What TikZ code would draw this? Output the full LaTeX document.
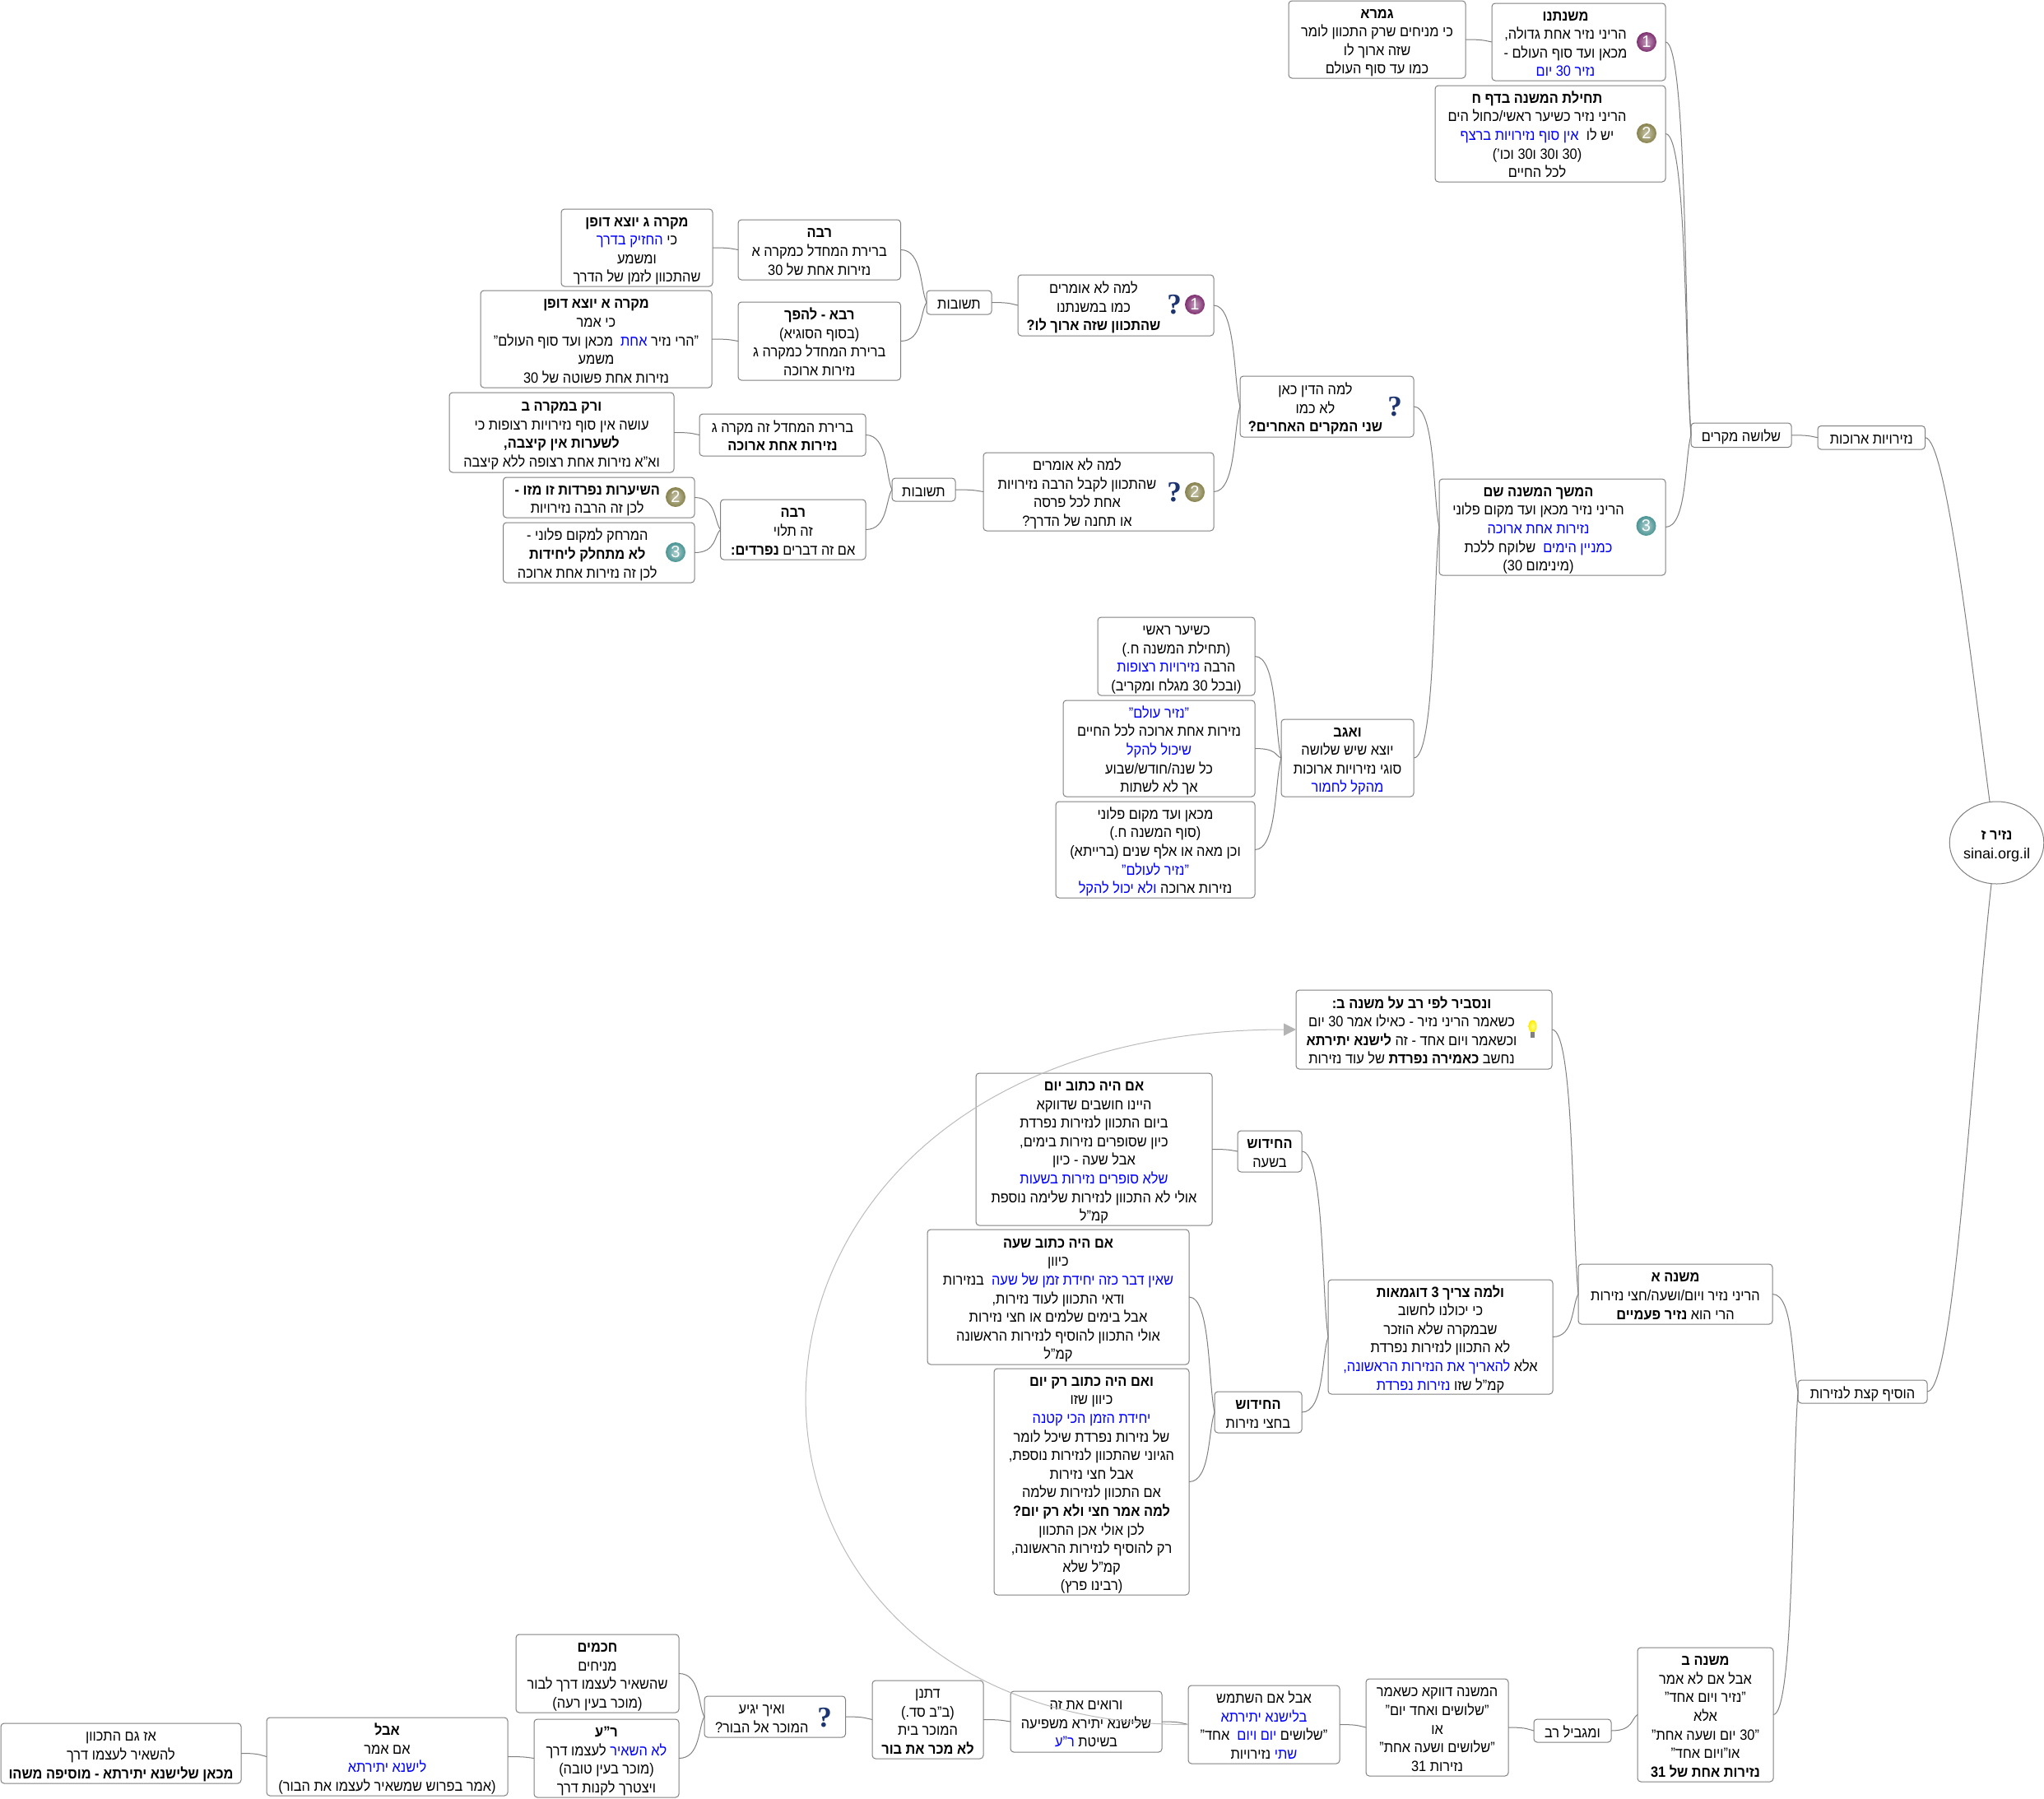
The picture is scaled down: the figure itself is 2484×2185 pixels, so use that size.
\documentclass[tikz,border=0pt]{standalone}
\usepackage{fontspec}
\usetikzlibrary{calc,arrows.meta,shapes.geometric}
\setmainfont[Script=Hebrew,FakeStretch=0.91]{Liberation Sans}
\newfontfamily\latfont{Liberation Sans}
\newfontfamily\qfont{Liberation Serif}
\TeXXeTstate=1
\definecolor{edgegray}{HTML}{808080}
\definecolor{linkgray}{HTML}{BBBBBB}
\definecolor{headgray}{HTML}{B4B4B4}
\definecolor{qblue}{HTML}{1C3470}
\definecolor{iconA}{HTML}{7E2F70}
\definecolor{iconB}{HTML}{87824C}
\definecolor{iconC}{HTML}{4A9494}
% inside an R run the output order is reversed, so the colour stack is written pop first
\newcommand\bl[1]{\special{color pop}#1\special{color push rgb 0 0 1}}
\newcommand\tb[1]{\textbf{#1}}
\tikzset{
  mapbox/.style={draw=edgegray,line width=1pt,rounded corners=4pt,inner sep=0pt,outer sep=0pt,
    font=\fontsize{18}{22.6}\selectfont,text=black},
  conn/.style={draw=edgegray,line width=1pt},
  numicon/.style={circle,minimum size=24pt,inner sep=0pt,outer sep=0pt,shade,inner color=#1!45!white,outer color=#1,text=white,
    font=\fontsize{20}{20}\selectfont\latfont},
  qicon/.style={inner sep=0pt,outer sep=0pt,text=qblue,font=\fontsize{35}{35}\selectfont\qfont\bfseries},
  crosslink/.style={draw=linkgray,line width=1pt,-{Triangle[length=15pt,width=15pt,fill=headgray,color=headgray]}}
}
\newcommand\ndtext[7][0]{%
  \pgfmathsetmacro\cxx{(#3+#5)/2}\pgfmathsetmacro\cyy{(#4+#6)/2}%
  \pgfmathsetmacro\wdd{#5-#3}\pgfmathsetmacro\htt{#6-#4}%
  \pgfmathsetmacro\kk{-2*#1}%
  \node[mapbox,minimum width=\wdd pt,minimum height=\htt pt] (#2) at (\cxx,\cyy)
    {\raisebox{-3.5pt}[\height][\depth]{\begin{tabular}{@{}c@{}}#7\end{tabular}}\kern\kk pt};%
}
\newcommand\cn[2]{\draw[conn] (#1.east) .. controls ($(#1.east)!0.85!(#1.east -| #2.west)$) and ($(#2.west)!0.25!(#1.east)$) .. (#2.west);}
\begin{document}
\begin{tikzpicture}[x=1pt,y=-1pt]
\useasboundingbox (0,0) rectangle (2484,2185);
\fill[white] (0,0) rectangle (2484,2185);
% top branch
\ndtext{gemara}{1566}{1}{1781}{95}{\beginR\tb{גמרא}\endR\\\beginR כי מניחים שרק התכוון לומר\endR\\\beginR שזה ארוך לו\endR\\\beginR כמו עד סוף העולם\endR}
\ndtext[-16]{mishnatenu}{1813}{4}{2024}{98}{\beginR\tb{משנתנו}\endR\\\beginR הריני נזיר אחת גדולה,\endR\\\beginR מכאן ועד סוף העולם -\endR\\\beginR\bl{נזיר 30 יום}\endR}
\ndtext[-16]{techila}{1744}{104}{2024}{221}{\beginR\tb{תחילת המשנה בדף ח}\endR\\\beginR הריני נזיר כשיער ראשי/כחול הים\endR\\\beginR יש לו\ \ \bl{אין סוף נזירויות ברצף}\endR\\\beginR (30 ו30 ו30 וכו')\endR\\\beginR לכל החיים\endR}
\ndtext{mikreg}{682}{254}{866}{348}{\beginR\tb{מקרה ג יוצא דופן}\endR\\\beginR כי \bl{החזיק בדרך}\endR\\\beginR ומשמע\endR\\\beginR שהתכוון לזמן של הדרך\endR}
\ndtext{ravaA}{897}{267}{1094.5}{340}{\beginR\tb{רבה}\endR\\\beginR ברירת המחדל כמקרה א\endR\\\beginR נזירות אחת של 30\endR}
\ndtext{mikrea}{584}{353}{865}{471}{\beginR\tb{מקרה א יוצא דופן}\endR\\\beginR כי אמר\endR\\\beginR "הרי נזיר \bl{אחת}\ \ מכאן ועד סוף העולם"\endR\\\beginR משמע\endR\\\beginR נזירות אחת פשוטה של 30\endR}
\ndtext{ravaB}{897}{367}{1094.5}{462}{\beginR\tb{רבא - להפך}\endR\\\beginR (בסוף הסוגיא)\endR\\\beginR ברירת המחדל כמקרה ג\endR\\\beginR נזירות ארוכה\endR}
\ndtext{verak}{546}{477}{819}{574}{\beginR\tb{ורק במקרה ב}\endR\\\beginR עושה אין סוף נזירויות רצופות כי\endR\\\beginR\tb{לשערות אין קיצבה,}\endR\\\beginR וא"א נזירות אחת רצופה ללא קיצבה\endR}
\ndtext{berirat}{850}{503}{1052}{554}{\beginR ברירת המחדל זה מקרה ג\endR\\\beginR\tb{נזירות אחת ארוכה}\endR}
\ndtext[-14]{shiurot}{611.5}{580}{844}{629}{\beginR\tb{השיערות נפרדות זו מזו -}\endR\\\beginR לכן זה הרבה נזירויות\endR}
\ndtext[-14]{merchak}{611.5}{635}{844}{708}{\beginR המרחק למקום פלוני -\endR\\\beginR\tb{לא מתחלק ליחידות}\endR\\\beginR לכן זה נזירות אחת ארוכה\endR}
\ndtext{rabbaC}{875.6}{607}{1052}{680}{\beginR\tb{רבה}\endR\\\beginR זה תלוי\endR\\\beginR אם זה דברים \tb{נפרדים:}\endR}
\ndtext{tshuvotA}{1126}{353}{1205}{382}{\beginR תשובות\endR}
\ndtext{tshuvotB}{1084}{581}{1161}{609}{\beginR תשובות\endR}
\ndtext[-27]{lamaA}{1237}{334}{1475}{408}{\beginR למה לא אומרים\endR\\\beginR כמו במשנתנו\endR\\\beginR\tb{שהתכוון שזה ארוך לו?}\endR}
\ndtext[-26]{lamaB}{1195}{550}{1475}{645}{\beginR למה לא אומרים\endR\\\beginR שהתכוון לקבל הרבה נזירויות\endR\\\beginR אחת לכל פרסה\endR\\\beginR או תחנה של הדרך?\endR}
\ndtext[-14]{lamadin}{1507}{457}{1718}{531}{\beginR למה הדין כאן\endR\\\beginR לא כמו\endR\\\beginR\tb{שני המקרים האחרים?}\endR}
\ndtext[-17]{hemshech}{1749}{582}{2024}{699}{\beginR\tb{המשך המשנה שם}\endR\\\beginR הריני נזיר מכאן ועד מקום פלוני\endR\\\beginR\bl{נזירות אחת ארוכה}\endR\\\beginR\bl{כמניין הימים}\ \ שלוקח ללכת\endR\\\beginR (מינימום 30)\endR}
\ndtext{kesiar}{1334}{750}{1525}{845}{\beginR כשיער ראשי\endR\\\beginR (תחילת המשנה ח.)\endR\\\beginR הרבה \bl{נזירויות רצופות}\endR\\\beginR (ובכל 30 מגלח ומקריב)\endR}
\ndtext{nazolam}{1292}{851}{1525}{968}{\beginR\bl{"נזיר עולם"}\endR\\\beginR נזירות אחת ארוכה לכל החיים\endR\\\beginR\bl{שיכול להקל}\endR\\\beginR כל שנה/חודש/שבוע\endR\\\beginR אך לא לשתות\endR}
\ndtext{mikan}{1283}{974}{1525}{1091}{\beginR מכאן ועד מקום פלוני\endR\\\beginR (סוף המשנה ח.)\endR\\\beginR וכן מאה או אלף שנים (ברייתא)\endR\\\beginR\bl{"נזיר לעולם"}\endR\\\beginR נזירות ארוכה \bl{ולא יכול להקל}\endR}
\ndtext{veagav}{1557}{874}{1718}{968}{\beginR\tb{ואגב}\endR\\\beginR יוצא שיש שלושה\endR\\\beginR סוגי נזירויות ארוכות\endR\\\beginR\bl{מהקל לחמור}\endR}
\ndtext{shlosha}{2055}{514}{2177}{543.5}{\beginR שלושה מקרים\endR}
\ndtext{nezirut}{2209}{517.5}{2339.5}{546}{\beginR נזירויות ארוכות\endR}
\node[mapbox,ellipse,rounded corners=0pt,minimum width=113pt,minimum height=100pt] (root) at (2426.5,1024)
  {\raisebox{-3.5pt}[\height][\depth]{\begin{tabular}{@{}c@{}}\beginR\tb{נזיר ז}\endR\\{\latfont sinai.org.il}\end{tabular}}};
% bottom branch
\ndtext{hosif}{2185}{1677}{2342}{1705}{\beginR הוסיף קצת לנזירות\endR}
\ndtext{mishnaa}{1918}{1536}{2154}{1609}{\beginR\tb{משנה א}\endR\\\beginR הריני נזיר ויום/ושעה/חצי נזירות\endR\\\beginR הרי הוא \tb{נזיר פעמיים}\endR}
\ndtext[-15]{nasbir}{1575}{1203}{1886}{1299}{\beginR\tb{ונסביר לפי רב על משנה ב:}\endR\\\beginR כשאמר הריני נזיר - כאילו אמר 30 יום\endR\\\beginR וכשאמר ויום אחד - זה \tb{לישנא יתירתא}\endR\\\beginR נחשב \tb{כאמירה נפרדת} של עוד נזירות\endR}
\ndtext{velama}{1614}{1555}{1887}{1694}{\beginR\tb{ולמה צריך 3 דוגמאות}\endR\\\beginR כי יכולנו לחשוב\endR\\\beginR שבמקרה שלא הוזכר\endR\\\beginR לא התכוון לנזירות נפרדת\endR\\\beginR אלא \bl{להאריך את הנזירות הראשונה,}\endR\\\beginR קמ"ל שזו \bl{נזירות נפרדת}\endR}
\ndtext{hidushA}{1504}{1374}{1582}{1424}{\beginR\tb{החידוש}\endR\\\beginR בשעה\endR}
\ndtext{hidushB}{1476}{1691}{1582}{1741}{\beginR\tb{החידוש}\endR\\\beginR בחצי נזירות\endR}
\ndtext{imyom}{1186}{1304}{1473}{1489}{\beginR\tb{אם היה כתוב יום}\endR\\\beginR היינו חושבים שדווקא\endR\\\beginR ביום התכוון לנזירות נפרדת\endR\\\beginR כיון שסופרים נזירות בימים,\endR\\\beginR אבל שעה - כיון\endR\\\beginR\bl{שלא סופרים נזירות בשעות}\endR\\\beginR אולי לא התכוון לנזירות שלימה נוספת\endR\\\beginR קמ"ל\endR}
\ndtext{imshaa}{1127}{1494}{1445}{1658}{\beginR\tb{אם היה כתוב שעה}\endR\\\beginR כיוון\endR\\\beginR\bl{שאין דבר כזה יחידת זמן של שעה}\ \ בנזירות\endR\\\beginR ודאי התכוון לעוד נזירות,\endR\\\beginR אבל בימים שלמים או חצי נזירות\endR\\\beginR אולי התכוון להוסיף לנזירות הראשונה\endR\\\beginR קמ"ל\endR}
\ndtext{rakyom}{1208}{1663}{1445}{1938}{\beginR\tb{ואם היה כתוב רק יום}\endR\\\beginR כיוון שזו\endR\\\beginR\bl{יחידת הזמן הכי קטנה}\endR\\\beginR של נזירות נפרדת שיכל לומר\endR\\\beginR הגיוני שהתכוון לנזירות נוספת,\endR\\\beginR אבל חצי נזירות\endR\\\beginR אם התכוון לנזירות שלמה\endR\\\beginR\tb{למה אמר חצי ולא רק יום?}\endR\\\beginR לכן אולי אכן התכוון\endR\\\beginR רק להוסיף לנזירות הראשונה,\endR\\\beginR קמ"ל שלא\endR\\\beginR (רבינו פרץ)\endR}
\ndtext{mishnab}{1990}{2002}{2155}{2165}{\beginR\tb{משנה ב}\endR\\\beginR אבל אם לא אמר\endR\\\beginR "נזיר ויום אחד"\endR\\\beginR אלא\endR\\\beginR "30 יום ושעה אחת"\endR\\\beginR או"ויום אחד"\endR\\\beginR\tb{נזירות אחת של 31}\endR}
\ndtext{umagbil}{1864}{2089}{1958}{2117}{\beginR ומגביל רב\endR}
\ndtext{hamishna}{1660}{2040}{1833}{2158}{\beginR המשנה דווקא כשאמר\endR\\\beginR "שלושים ואחד יום"\endR\\\beginR או\endR\\\beginR "שלושים ושעה אחת"\endR\\\beginR נזירות 31\endR}
\ndtext{avalA}{1444}{2048}{1628}{2143}{\beginR אבל אם השתמש\endR\\\beginR\bl{בלישנא יתירתא}\endR\\\beginR "שלושים \bl{יום ויום}\ \ אחד"\endR\\\beginR\bl{שתי} נזירויות\endR}
\ndtext{veroim}{1228}{2055}{1412}{2129}{\beginR ורואים את זה\endR\\\beginR שלישנא יתירא משפיעה\endR\\\beginR בשיטת \bl{ר"ע}\endR}
\ndtext{ditnan}{1060}{2042}{1195}{2137}{\beginR דתנן\endR\\\beginR (ב"ב סד.)\endR\\\beginR המוכר בית\endR\\\beginR\tb{לא מכר את בור}\endR}
\ndtext[-16]{veech}{856}{2061}{1027.5}{2111}{\beginR ואיך יגיע\endR\\\beginR המוכר אל הבור?\endR}
\ndtext{chachamim}{627}{1986}{825}{2081}{\beginR\tb{חכמים}\endR\\\beginR מניחים\endR\\\beginR שהשאיר לעצמו דרך לבור\endR\\\beginR (מוכר בעין רעה)\endR}
\ndtext{rabiakiva}{649}{2089}{825}{2184}{\beginR\tb{ר"ע}\endR\\\beginR\bl{לא השאיר} לעצמו דרך\endR\\\beginR (מוכר בעין טובה)\endR\\\beginR ויצטרך לקנות דרך\endR}
\ndtext{avalB}{324}{2087}{617}{2182}{\beginR\tb{אבל}\endR\\\beginR אם אמר\endR\\\beginR\bl{לישנא יתירתא}\endR\\\beginR (אמר בפרוש שמשאיר לעצמו את הבור)\endR}
\ndtext{az}{1}{2094}{293}{2167}{\beginR אז גם התכוון\endR\\\beginR להשאיר לעצמו דרך\endR\\\beginR\tb{מכאן שלישנא יתירתא - מוסיפה משהו}\endR}
% icons
\node[numicon=iconA] (icA) at (2001,51) {1};
\node[numicon=iconB] (icB) at (2001,162) {2};
\node[numicon=iconC] (icC) at (2000.5,639) {3};
\node[numicon=iconA] (icD) at (1452,370) {1};
\node[numicon=iconB] (icE) at (1452,598) {2};
\node[numicon=iconB] (icF) at (821,604) {2};
\node[numicon=iconC] (icG) at (821,671) {3};
\node[qicon] (qA) at (1427,370) {?};
\node[qicon] (qB) at (1427,598) {?};
\node[qicon] (qC) at (1695,494) {?};
\node[qicon] (qD) at (1002,2087) {?};
% bulb
\shade[inner color=yellow!45!white,outer color=yellow!85!orange] (1862.5,1247) ellipse (5pt and 7.5pt);
\fill[gray] (1860,1254) rectangle (1865,1261);
% connectors
\cn{gemara}{mishnatenu}
\cn{mishnatenu}{shlosha}
\cn{techila}{shlosha}
\cn{hemshech}{shlosha}
\cn{mikreg}{ravaA}
\cn{mikrea}{ravaB}
\cn{ravaA}{tshuvotA}
\cn{ravaB}{tshuvotA}
\cn{tshuvotA}{lamaA}
\cn{verak}{berirat}
\cn{shiurot}{rabbaC}
\cn{merchak}{rabbaC}
\cn{berirat}{tshuvotB}
\cn{rabbaC}{tshuvotB}
\cn{tshuvotB}{lamaB}
\cn{lamaA}{lamadin}
\cn{lamaB}{lamadin}
\cn{lamadin}{hemshech}
\cn{veagav}{hemshech}
\cn{kesiar}{veagav}
\cn{nazolam}{veagav}
\cn{mikan}{veagav}
\cn{shlosha}{nezirut}
\coordinate (rootTop) at (2418,974);
\coordinate (rootBot) at (2420,1074);
\draw[conn] (nezirut.east) .. controls (2365,532) and (2395,800) .. (rootTop);
\draw[conn] (hosif.east) .. controls (2375,1691) and (2395,1300) .. (rootBot);
\cn{mishnaa}{hosif}
\cn{mishnab}{hosif}
\cn{nasbir}{mishnaa}
\cn{velama}{mishnaa}
\cn{hidushA}{velama}
\cn{hidushB}{velama}
\cn{imyom}{hidushA}
\cn{imshaa}{hidushB}
\cn{rakyom}{hidushB}
\cn{umagbil}{mishnab}
\cn{hamishna}{umagbil}
\cn{avalA}{hamishna}
\cn{veroim}{avalA}
\cn{ditnan}{veroim}
\cn{veech}{ditnan}
\cn{chachamim}{veech}
\cn{rabiakiva}{veech}
\cn{avalB}{rabiakiva}
\cn{az}{avalB}
% cross link
\draw[crosslink] (avalA.west) .. controls (806,2096) and (806,1251) .. (nasbir.west);
\end{tikzpicture}
\end{document}
